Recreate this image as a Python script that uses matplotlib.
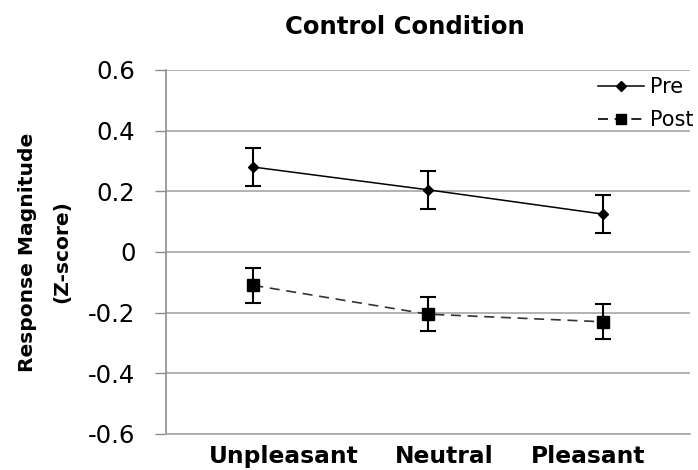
import matplotlib
matplotlib.use('Agg')
import matplotlib.pyplot as plt
from matplotlib.lines import Line2D

categories = ["Unpleasant", "Neutral", "Pleasant"]
pre_mean = [0.28, 0.205, 0.125]
pre_err = [0.062, 0.062, 0.062]
post_mean = [-0.11, -0.205, -0.23]
post_err = [0.057, 0.057, 0.058]
yticks = [-0.6, -0.4, -0.2, 0, 0.2, 0.4, 0.6]
ytick_labels = ["-0.6", "-0.4", "-0.2", "0", "0.2", "0.4", "0.6"]

# category labels in the original sit a bit off the data points
label_shift = [0.175, 0.091, -0.084]

fig = plt.figure(figsize=(6.98, 4.70), dpi=100)
ax = fig.add_axes([0.2378, 0.0766, 0.7507, 0.7745])

x = list(range(len(categories)))
post_dash = (0, (6, 4))
ax.errorbar(x, pre_mean, yerr=pre_err, color="black", linestyle="-", linewidth=1.1,
            marker="D", markersize=5.5, capsize=5.5, elinewidth=1.5, capthick=1.5)
ax.errorbar(x, post_mean, yerr=post_err, color="#333333", linestyle=post_dash, linewidth=1.2,
            marker="s", markersize=8, markerfacecolor="black", markeredgecolor="black",
            ecolor="black", capsize=5.5, elinewidth=1.5, capthick=1.5)

ax.set_xlim(-0.5, len(categories) - 0.5)
ax.set_ylim(-0.6, 0.6)
ax.set_yticks(yticks)
ax.set_yticklabels(ytick_labels, fontsize=17.5)
ax.set_xticks([xi + s for xi, s in zip(x, label_shift)])
ax.set_xticklabels(categories, fontsize=16.8, fontweight="bold")
ax.tick_params(axis="x", length=0, pad=8)
ax.tick_params(axis="y", length=8, width=1, color="#8c8c8c", pad=14)
ax.yaxis.grid(True, color="#a6a6a6", linewidth=1.2)
ax.set_axisbelow(True)
for side in ["top", "right"]:
    ax.spines[side].set_visible(False)
ax.spines["left"].set_color("#8c8c8c")
ax.spines["left"].set_linewidth(1.2)
ax.spines["bottom"].set_color("#a6a6a6")
ax.spines["bottom"].set_linewidth(1.2)

fig.text(405 / 698, 1 - 27 / 470, "Control Condition", fontsize=17.5, fontweight="bold",
         ha="center", va="center")
fig.text(45 / 698, 1 - 252 / 470, "Response Magnitude\n(Z-score)", fontsize=14.6,
         fontweight="bold", rotation=90, ha="center", va="center", multialignment="center",
         linespacing=2.0)

handles = [
    Line2D([], [], color="black", linestyle="-", linewidth=1.1, marker="D", markersize=5),
    Line2D([], [], color="black", linestyle=post_dash, linewidth=1.2, marker="s", markersize=7),
]
ax.legend(handles, ["Pre", "Post"], loc="upper right", frameon=False, fontsize=15,
          handlelength=2.2, handletextpad=0.3, borderpad=0, borderaxespad=0,
          labelspacing=0.64, bbox_to_anchor=(694 / 698, 1 - 77 / 470),
          bbox_transform=fig.transFigure)

fig.savefig("out.png", dpi=100)
